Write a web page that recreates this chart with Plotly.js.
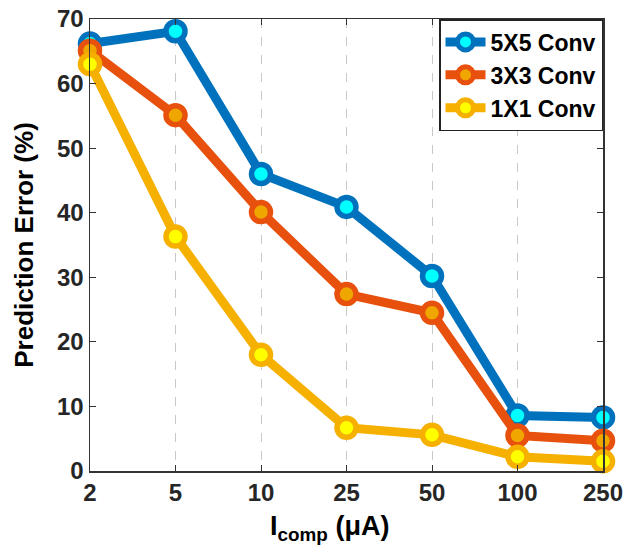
<!DOCTYPE html>
<html>
<head>
<meta charset="utf-8">
<script src="https://cdn.plot.ly/plotly-3.0.1.min.js"></script>
<style>html,body{margin:0;padding:0;background:#fff;}#chart{width:625px;height:552px;}</style>
</head>
<body>
<div id="chart"></div>
<script>
const categories = ["2", "5", "10", "25", "50", "100", "250"];
const conv5x5 = [66.2, 68.1, 46.0, 40.9, 30.2, 8.6, 8.3];
const conv3x3 = [65.1, 55.1, 40.1, 27.4, 24.5, 5.5, 4.7];
const conv1x1 = [63.0, 36.3, 18.0, 6.7, 5.6, 2.2, 1.5];
const seriesNames = ["5X5 Conv", "3X3 Conv", "1X1 Conv"];
const xTitle = "I<sub>comp</sub> (μA)";
const yTitle = "Prediction Error (%)";

const FONT = "Arial, 'Liberation Sans', Helvetica, sans-serif";

function mk(y, name, lineColor, faceColor) {
  return {
    x: categories, y: y, name: name, type: "scatter", mode: "lines+markers",
    line: {color: lineColor, width: 9},
    marker: {symbol: "circle", size: 19, color: faceColor, line: {color: lineColor, width: 5.5}},
    cliponaxis: false
  };
}

const data = [
  mk(conv5x5, seriesNames[0], "#0072BD", "#00FFFF"),
  mk(conv3x3, seriesNames[1], "#E8500E", "#EFA700"),
  mk(conv1x1, seriesNames[2], "#F5B000", "#FFFF00")
];

const layout = {
  width: 625, height: 552,
  margin: {l: 90, r: 22, t: 19, b: 81},
  paper_bgcolor: "#fff", plot_bgcolor: "#fff",
  font: {family: FONT, color: "#000", weight: "bold"},
  showlegend: true,
  legend: {
    x: 1, y: 1, xanchor: "right", yanchor: "top",
    bordercolor: "#222", borderwidth: 1.5, bgcolor: "#fff",
    font: {family: FONT, size: 23, color: "#000", weight: "bold"},
    itemwidth: 40, tracegroupgap: 0
  },
  xaxis: {
    type: "category", range: [0, 6],
    showline: true, linecolor: "#333", linewidth: 1.5, mirror: "ticks",
    ticks: "inside", ticklen: 6, tickcolor: "#333",
    showgrid: true, gridcolor: "#c8c8c8", griddash: "dash", gridwidth: 1,
    tickfont: {family: FONT, size: 24, color: "#262626", weight: "bold"},
    zeroline: false
  },
  yaxis: {
    range: [0, 70], dtick: 10,
    showline: true, linecolor: "#333", linewidth: 1.5, mirror: "ticks",
    ticks: "inside", ticklen: 6, tickcolor: "#333",
    showgrid: false, zeroline: false,
    tickfont: {family: FONT, size: 24, color: "#262626", weight: "bold"},
    title: {text: yTitle, font: {family: FONT, size: 26, color: "#000", weight: "bold"}, standoff: 16}
  },
  annotations: [{
    text: xTitle, xref: "paper", yref: "paper", x: 0.466, y: -0.126,
    xanchor: "center", yanchor: "middle", showarrow: false,
    font: {family: FONT, size: 27, color: "#000", weight: "bold"}
  }]
};

Plotly.newPlot("chart", data, layout, {displayModeBar: false, staticPlot: true});
</script>
</body>
</html>
